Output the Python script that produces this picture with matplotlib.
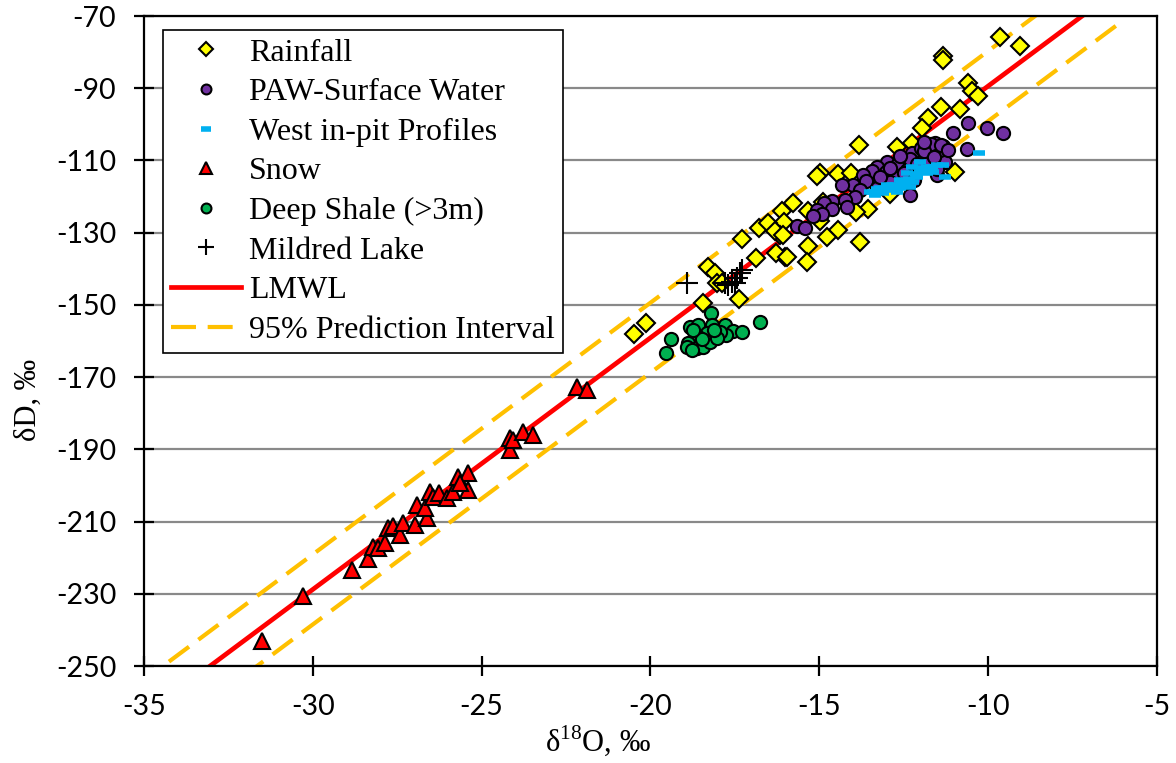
import numpy as np
import matplotlib
matplotlib.use("Agg")
import matplotlib.pyplot as plt

# d18O (x) and dD (y), permil
rain_x = [-9.65, -9.06, -11.34, -11.34, -10.6, -10.48, -10.3, -10.84, -11.4, -11.78,
          -11.96, -13.83, -12.7, -12.26, -10.98, -14.98, -15.07, -14.45, -14.06, -15.78,
          -16.1, -15.34, -14.9, -16.05, -14.98, -13.56, -13.92, -12.91, -14.45, -14.78,
          -15.34, -13.8, -16.02, -15.37, -16.17, -16.79, -16.52, -16.31, -16.08, -17.29,
          -16.88, -16.28, -15.96, -18.3, -18.09, -18.03, -17.88, -17.38, -18.45, -20.13,
          -20.49]
rain_y = [-75.8, -78.3, -81.1, -82.2, -88.6, -90.8, -92.2, -95.8, -95.2, -98.2,
          -101.0, -105.7, -106.3, -105.2, -113.2, -113.5, -114.3, -113.8, -113.5, -121.8,
          -124.0, -124.0, -121.5, -127.0, -126.8, -123.4, -124.3, -119.3, -129.3, -131.2,
          -133.7, -132.6, -136.7, -138.1, -130.6, -128.7, -127.3, -129.5, -130.6, -131.8,
          -137.0, -135.6, -136.7, -139.5, -141.2, -143.9, -143.9, -148.4, -149.5, -155.0,
          -158.1]

paw_x = [-10.6, -10.04, -9.56, -11.04, -10.63, -11.58, -11.34, -11.81, -12.02, -12.26,
         -12.52, -13.0, -12.7, -13.29, -13.03, -13.44, -13.71, -12.79, -12.41, -11.81,
         -11.52, -13.62, -14.0, -14.33, -13.8, -13.29, -13.95, -14.24, -14.63, -14.18,
         -14.86, -15.07, -14.63, -14.92, -15.19, -15.66, -15.43, -12.32, -11.43, -11.67,
         -11.28, -12.0, -11.7, -11.9, -12.3, -12.6, -12.9, -12.5, -12.1, -11.6,
         -11.5, -12.2, -12.9, -13.2, -11.4, -11.2, -11.9]
paw_y = [-99.6, -101.0, -102.4, -102.4, -106.8, -105.2, -106.0, -106.8, -108.5, -107.9,
         -109.9, -110.4, -111.3, -111.8, -113.2, -112.9, -114.0, -114.6, -112.6, -110.7,
         -114.0, -115.7, -116.8, -116.8, -118.2, -117.6, -120.1, -121.0, -121.2, -122.9,
         -121.8, -123.7, -123.4, -124.8, -125.4, -128.2, -128.7, -119.6, -107.9, -107.9,
         -110.4, -106.5, -105.5, -107.5, -109.5, -108.8, -112.0, -113.5, -111.0, -109.0,
         -112.5, -115.5, -116.0, -114.5, -105.8, -107.0, -104.8]

west_x = [-13.41, -13.21, -12.91, -12.61, -12.32, -12.23, -12.11, -12.02, -11.93, -11.81,
          -11.67, -11.52, -11.34, -11.64, -11.81, -12.26, -12.41, -12.61, -12.82, -13.12,
          -13.35, -13.5, -13.0, -12.7, -12.47, -12.02, -11.81, -11.28, -10.27, -13.3,
          -13.05, -12.8, -12.55, -12.35, -12.15, -11.95, -11.7]
west_y = [-118.7, -117.6, -118.2, -117.6, -117.4, -116.0, -114.6, -113.2, -112.1, -111.8,
          -111.8, -111.3, -111.3, -113.2, -113.5, -111.8, -113.5, -115.4, -116.8, -119.0,
          -119.6, -118.7, -116.8, -118.7, -116.2, -110.4, -112.6, -114.6, -107.9, -118.0,
          -118.0, -117.0, -116.5, -115.0, -113.8, -112.8, -112.5]

snow_x = [-31.51, -30.29, -28.84, -28.37, -28.22, -28.07, -27.86, -27.77, -27.63, -27.42,
          -27.33, -26.98, -26.92, -26.62, -26.68, -26.53, -26.44, -26.26, -26.03, -25.85,
          -25.7, -25.41, -25.41, -25.64, -24.16, -24.16, -24.07, -23.78, -23.48, -22.18,
          -21.88]
snow_y = [-243.1, -230.6, -223.4, -220.4, -217.0, -217.3, -215.9, -211.8, -211.2, -213.7,
          -210.4, -211.0, -205.4, -209.0, -206.2, -201.8, -203.2, -202.1, -203.5, -201.8,
          -197.7, -196.6, -201.3, -199.3, -190.2, -186.9, -187.4, -185.2, -186.0, -172.7,
          -173.6]

shale_x = [-18.21, -19.39, -19.54, -18.83, -18.59, -18.18, -17.8, -17.56, -17.29, -17.77,
           -17.94, -18.33, -18.59, -18.89, -18.92, -18.62, -18.45, -18.24, -18.03, -18.48,
           -18.77, -16.76, -18.74, -18.12]
shale_y = [-152.3, -159.4, -163.3, -156.1, -155.6, -155.6, -155.6, -157.2, -157.5, -158.3,
           -157.5, -157.8, -158.9, -160.6, -161.7, -161.9, -161.7, -160.3, -159.2, -159.4,
           -162.5, -154.7, -157.0, -157.0]

lake_x = [-18.92, -17.59, -17.44, -17.35, -17.29, -17.5, -17.71, -17.8]
lake_y = [-143.9, -143.7, -142.6, -141.2, -140.3, -143.9, -144.5, -143.9]

# local meteoric water line and 95% band
lmwl_slope = 6.97
lmwl_icpt = -19.7
pi_half = 9.7
line_x = np.array([-36.0, -6.1])

plt.rcParams['font.family'] = ['Liberation Serif', 'DejaVu Serif']
plt.rcParams['axes.unicode_minus'] = False

fig = plt.figure(figsize=(11.76, 7.63), dpi=100)
ax = fig.add_axes([0.1224, 0.1271, 0.8614, 0.8519])

lmwl_y = lmwl_slope * line_x + lmwl_icpt
ax.plot(line_x, lmwl_y, color='#FF0000', lw=3.4, label='LMWL', zorder=2)
ax.plot(line_x, lmwl_y + pi_half, color='#FFC000', lw=3.0, dashes=(6, 2.8),
        label='95% Prediction Interval', zorder=2)
ax.plot(line_x, lmwl_y - pi_half, color='#FFC000', lw=3.0, dashes=(6, 2.8), zorder=2)

ax.plot(rain_x, rain_y, 'D', ms=9.5, mfc='#FFFF00', mec='black', mew=1.5,
        label='Rainfall', zorder=3)
ax.plot(paw_x, paw_y, 'o', ms=9.5, mfc='#7030A0', mec='black', mew=1.5,
        label='PAW-Surface Water', zorder=4)
ax.plot(west_x, west_y, '_', ms=9, mec='#00B0F0', mew=4,
        label='West in-pit Profiles', zorder=5)
ax.plot(snow_x, snow_y, '^', ms=11, mfc='#FF0000', mec='black', mew=1.5,
        label='Snow', zorder=3)
ax.plot(shale_x, shale_y, 'o', ms=9.5, mfc='#00B050', mec='black', mew=1.5,
        label='Deep Shale (>3m)', zorder=3)
ax.plot(lake_x, lake_y, '+', ms=16, mec='black', mew=1.5,
        label='Mildred Lake', zorder=6)

ax.set_xlim(-35, -5)
ax.set_ylim(-250, -70)
ax.set_xticks(np.arange(-35, -4, 5))
ax.set_yticks(np.arange(-250, -69, 20))
ax.grid(axis='y', color='#898989', lw=1.6)
ax.set_axisbelow(True)
for s in ax.spines.values():
    s.set_linewidth(1.6)
ax.tick_params(direction='inout', length=14, width=1.6, pad=13)
for t in ax.get_xticklabels() + ax.get_yticklabels():
    t.set_fontfamily('Lato')
    t.set_fontsize(20.5)

ax.set_xlabel(r'δ$^{\mathregular{18}}$O, ‰', fontsize=22)
ax.set_ylabel('δD, ‰', fontsize=22)
ax.xaxis.set_label_coords(0.448, -0.088)
ax.yaxis.set_label_coords(-0.1, 0.41)

handles, labels = ax.get_legend_handles_labels()
order = ['Rainfall', 'PAW-Surface Water', 'West in-pit Profiles', 'Snow',
         'Deep Shale (>3m)', 'Mildred Lake', 'LMWL', '95% Prediction Interval']
hmap = dict(zip(labels, handles))
leg = ax.legend([hmap[k] for k in order], order, loc='upper left',
                bbox_to_anchor=(0.0188, 0.978), borderaxespad=0, fontsize=23,
                frameon=True, fancybox=False, edgecolor='black', framealpha=1,
                handlelength=2.2, handletextpad=0.25, labelspacing=0.32,
                borderpad=0.25, markerscale=0.75)
leg.get_frame().set_linewidth(1.2)

fig.savefig('out.png', dpi=100)
